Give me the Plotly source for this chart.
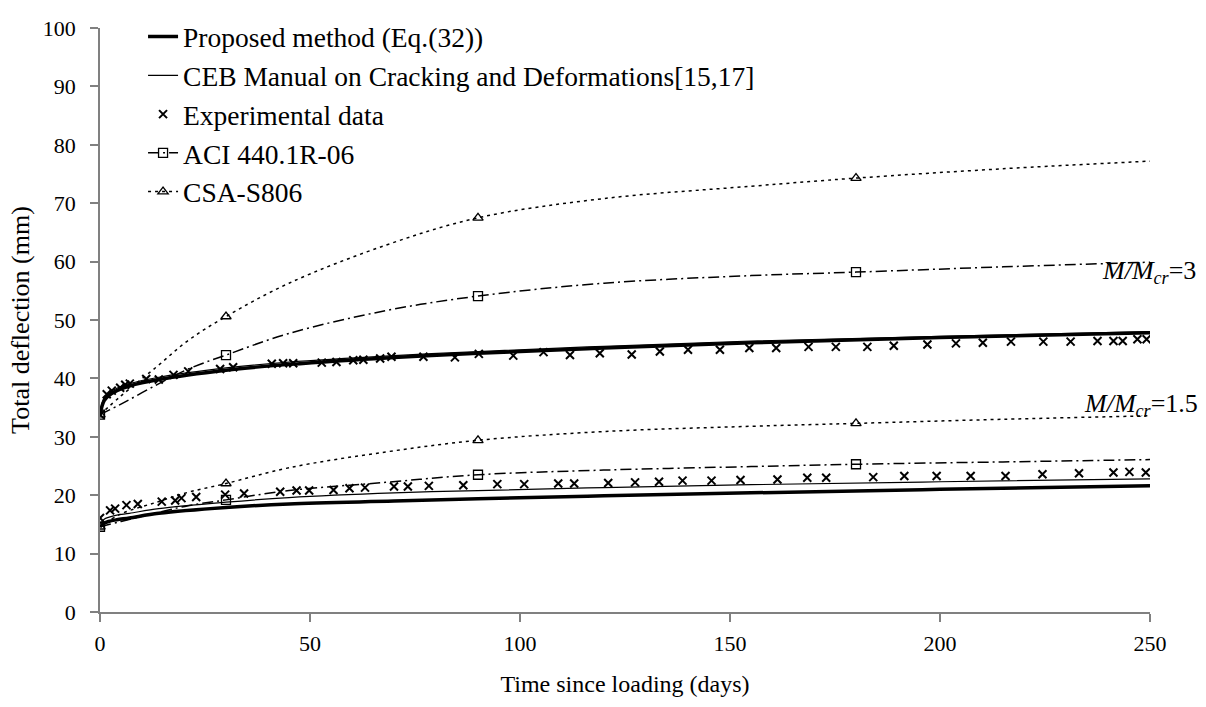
import plotly.graph_objects as go

# ---------------- data ----------------
t_model = [0, 0.5, 1, 2, 4, 7, 14, 30, 45, 70, 90, 120, 155, 200, 250]
prop_m3 = [33.8, 35.3, 36.2, 37.0, 37.9, 38.7, 39.8, 41.4, 42.4, 43.6, 44.3, 45.2, 46.1, 47.0, 47.8]
ceb_m3 = [33.8, 35.8, 36.7, 37.4, 38.3, 39.1, 40.2, 41.8, 42.8, 43.9, 44.6, 45.5, 46.4, 47.2, 48.0]
prop_m15 = [14.6, 14.9, 15.2, 15.5, 15.8, 16.1, 16.9, 17.9, 18.5, 19.0, 19.4, 19.9, 20.4, 21.0, 21.6]
ceb_m15 = [15.2, 15.5, 15.9, 16.2, 16.6, 16.9, 17.7, 18.8, 19.6, 20.4, 20.8, 21.3, 21.8, 22.3, 22.8]

t_code = [0, 5, 13.5, 21, 30, 45, 68, 90, 120, 155, 180, 215, 250]
aci_m3 = [33.8, 35.6, 38.9, 41.6, 44.0, 47.7, 51.6, 54.1, 56.3, 57.6, 58.2, 59.1, 59.9]
csa_m3 = [33.8, 37.0, 42.0, 46.5, 50.6, 56.3, 62.8, 67.5, 70.8, 72.9, 74.3, 75.9, 77.2]
aci_m15 = [14.6, 15.5, 17.0, 18.2, 19.2, 20.8, 22.2, 23.5, 24.3, 24.9, 25.3, 25.7, 26.1]
csa_m15 = [14.6, 16.8, 18.8, 20.5, 22.0, 24.7, 27.4, 29.4, 30.9, 31.8, 32.3, 33.0, 33.6]
t_marked = [0, 30, 90, 180]

t_exp_m3 = [0, 1.6, 2.8, 4.8, 6, 7.1, 11, 14, 17.5, 21, 28.6, 31.7, 40.9, 43.6, 46, 52.8, 56.3,
            60.3, 62.7, 66.7, 69.4, 77, 84.5, 90.2, 98.4, 105.6, 111.9, 119, 126.6, 133.3, 140,
            147.6, 154.6, 161, 168.7, 175.2, 182.7, 189, 197, 203.8, 210.2, 216.9, 224.6, 231.1,
            237.5, 241.3, 243.5, 247, 249.2]
exp_m3 = [33.8, 37.3, 37.9, 38.4, 38.9, 39.1, 39.9, 39.8, 40.6, 41.2, 41.6, 41.9, 42.5, 42.6, 42.6,
          42.7, 42.8, 43.1, 43.2, 43.4, 43.7, 43.7, 43.6, 44.2, 43.9, 44.5, 44.0, 44.3, 44.1, 44.6,
          44.9, 44.9, 45.2, 45.2, 45.4, 45.4, 45.4, 45.6, 45.8, 46.0, 46.1, 46.3, 46.3, 46.3, 46.4,
          46.4, 46.4, 46.7, 46.7]
t_exp_m15 = [0, 2.4, 3.6, 6.3, 9, 14.7, 17.9, 19.4, 22.9, 29.8, 34.3, 42.9, 46.8, 49.8, 55.6, 59.4,
             63.1, 70, 73.3, 78.3, 86.5, 94.6, 101, 109.1, 112.9, 121, 127.4, 133.1, 138.7, 145.6,
             152.5, 161.3, 168.4, 172.9, 184.1, 191.5, 199.2, 207.3, 215.6, 224.4, 233.1, 241.3,
             245.1, 249]
exp_m15 = [16.1, 17.4, 17.7, 18.3, 18.5, 18.9, 19.1, 19.5, 19.7, 20.1, 20.3, 20.6, 20.8, 20.8, 20.9,
           21.2, 21.3, 21.5, 21.5, 21.6, 21.7, 21.9, 21.9, 22.0, 22.0, 22.1, 22.2, 22.3, 22.5, 22.5,
           22.6, 22.7, 23.0, 23.0, 23.1, 23.3, 23.3, 23.3, 23.3, 23.6, 23.75, 23.9, 24.0, 23.9]

series_names = ["Proposed method (Eq.(32))", "CEB Manual on Cracking and Deformations[15,17]",
                "Experimental data", "ACI 440.1R-06", "CSA-S806"]
ratio_labels = ["<i>M/M<sub>cr</sub></i>=3", "<i>M/M<sub>cr</sub></i>=1.5"]
label_pos_x = [238.0, 233.7]
label_pos_y = [58.3, 35.4]

x_ticks = [0, 50, 100, 150, 200, 250]
y_ticks = [0, 10, 20, 30, 40, 50, 60, 70, 80, 90, 100]

FONT = "Liberation Serif"
BLACK = "black"
ACI_DASH = "11px,4px,2px,4px"
CSA_DASH = "3px,4px"
EXP_MARKER = dict(symbol="x-thin-open", size=8, color=BLACK, line=dict(color=BLACK, width=2))

fig = go.Figure()

# legend-only entries
fig.add_trace(go.Scatter(x=[None], y=[None], mode="lines", name=series_names[0],
                         line=dict(color=BLACK, width=3.5)))
fig.add_trace(go.Scatter(x=[None], y=[None], mode="lines", name=series_names[1],
                         line=dict(color=BLACK, width=1.2)))
fig.add_trace(go.Scatter(x=[None], y=[None], mode="markers", name=series_names[2], marker=EXP_MARKER))
fig.add_trace(go.Scatter(x=[None], y=[None], mode="lines+markers", name=series_names[3],
                         line=dict(color=BLACK, width=1.5, dash=ACI_DASH),
                         marker=dict(symbol="square-open", size=9, color=BLACK, line=dict(width=1.3))))
fig.add_trace(go.Scatter(x=[None], y=[None], mode="lines+markers", name=series_names[4],
                         line=dict(color=BLACK, width=1.5, dash=CSA_DASH),
                         marker=dict(symbol="triangle-up-open", size=9, color=BLACK, line=dict(width=1.3))))


def code_traces(vals, dash, symbol):
    fig.add_trace(go.Scatter(x=t_code, y=vals, mode="lines", showlegend=False,
                             line=dict(color=BLACK, width=1.5, dash=dash, shape="spline", smoothing=1.0)))
    mx = [t for t in t_code if t in t_marked]
    my = [v for t, v in zip(t_code, vals) if t in t_marked]
    fig.add_trace(go.Scatter(x=mx, y=my, mode="markers", showlegend=False,
                             marker=dict(symbol=symbol, size=9, color=BLACK, line=dict(width=1.3))))


for vals in (csa_m3, csa_m15):
    code_traces(vals, CSA_DASH, "triangle-up-open")
for vals in (aci_m3, aci_m15):
    code_traces(vals, ACI_DASH, "square-open")

for vals in (ceb_m3, ceb_m15):
    fig.add_trace(go.Scatter(x=t_model, y=vals, mode="lines", showlegend=False,
                             line=dict(color=BLACK, width=1.2, shape="spline", smoothing=1.0)))
for vals in (prop_m3, prop_m15):
    fig.add_trace(go.Scatter(x=t_model, y=vals, mode="lines", showlegend=False,
                             line=dict(color=BLACK, width=3.5, shape="spline", smoothing=1.0)))

for tx, vy in ((t_exp_m3, exp_m3), (t_exp_m15, exp_m15)):
    fig.add_trace(go.Scatter(x=tx, y=vy, mode="markers", showlegend=False, marker=EXP_MARKER))

for txt, lx, ly in zip(ratio_labels, label_pos_x, label_pos_y):
    fig.add_annotation(x=lx, y=ly, text=txt, showarrow=False, xanchor="left", yanchor="middle",
                       font=dict(family=FONT, size=26, color=BLACK))

axis_common = dict(showgrid=False, zeroline=False, showline=True, linecolor="#808080", linewidth=1.5,
                   ticks="outside", ticklen=8, tickcolor="#808080", tickwidth=1.5,
                   tickfont=dict(family=FONT, size=22, color=BLACK))

fig.update_layout(
    width=1206, height=707,
    margin=dict(l=100, r=56, t=17, b=95),
    plot_bgcolor="white", paper_bgcolor="white",
    font=dict(family=FONT, color=BLACK),
    showlegend=True,
    legend=dict(x=0.041, y=1.027, xanchor="left", yanchor="top", bgcolor="rgba(0,0,0,0)",
                font=dict(family=FONT, size=27.5, color=BLACK), traceorder="normal"),
    xaxis=dict(range=[0, 250], tickvals=x_ticks, ticklabelstandoff=3, **axis_common,
               title=dict(text="Time since loading (days)", font=dict(family=FONT, size=24, color=BLACK),
                          standoff=20)),
    yaxis=dict(range=[0, 100], tickvals=y_ticks, ticklabelstandoff=10, **axis_common,
               title=dict(text="Total deflection (mm)", font=dict(family=FONT, size=26, color=BLACK),
                          standoff=6)),
)

fig.write_html("out.html")
